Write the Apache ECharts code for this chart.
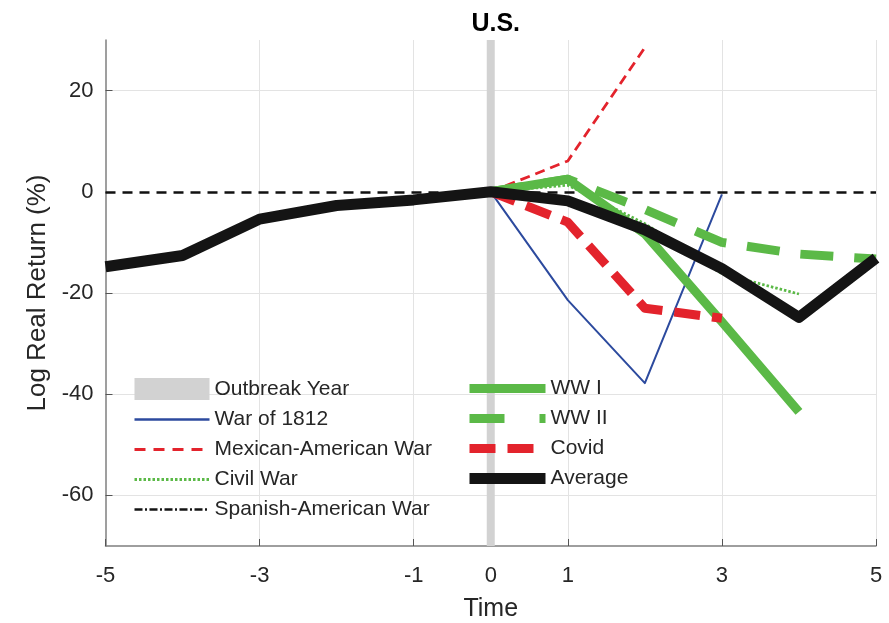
<!DOCTYPE html>
<html>
<head>
<meta charset="utf-8">
<script src="https://cdn.jsdelivr.net/npm/echarts@6/dist/echarts.min.js"></script>
<style>
  html, body { margin: 0; padding: 0; background: #ffffff; }
  #chart { width: 889px; height: 623px; }
</style>
</head>
<body>
<div id="chart"></div>
<script>
// Cumulative log real returns (%) around each war's outbreak year (year 0)
const averageYears = [-5, -4, -3, -2, -1, 0, 1, 2, 3, 4, 5];
const average = [-14.8, -12.6, -5.4, -2.7, -1.6, 0, -1.8, -7.5, -15.2, -24.8, -13.1];

// Individual episodes start at year 0; element i is year i
const war1812 = [0, -21.4, -37.8, -0.5];
const mexicanAmerican = [0, 6.1, 28.5];
const civilWar = [0, 1.3, -6.3, -16.2, -20.2];
const spanishAmerican = [0, 2.2];
const ww1 = [0, 2.5, -8.3, -25.7, -43.5];
const ww2 = [0, 2.5, -3.5, -10.0, -12.3, -13.3];
const covid = [0, -6.0, -23.0, -25.0];

const outbreakYear = 0;
const xTickLabels = [-5, -3, -1, 0, 1, 3, 5];
const yTickLabels = [-60, -40, -20, 0, 20];
const xGridLines = [-3, -1, 1, 3, 5];
const yGridLines = [-60, -40, -20, 20];

const X_MIN = -5, X_MAX = 5, Y_MIN = -70, Y_MAX = 30;

const fromYearZero = vals => vals.map((v, i) => [i, v]);

const FONT = '"Liberation Sans", Arial, Helvetica, sans-serif';
const TEXT = '#262626';
const BLUE = '#2c4a9e';
const RED = '#e3232c';
const GREEN = '#5bb947';
const BLACK = '#141414';

const chart = echarts.init(document.getElementById('chart'), null, { renderer: 'canvas' });

const lineSeries = (name, data, color, width, type, z) => ({
  name, type: 'line', data, symbol: 'none', z,
  color,
  lineStyle: { color, width, type, cap: 'butt', join: 'round' },
  emphasis: { disabled: true },
  animation: false
});

const hiddenSymbol = { opacity: 0 };

chart.setOption({
  animation: false,
  backgroundColor: '#ffffff',
  textStyle: { fontFamily: FONT },
  title: {
    text: 'U.S.',
    left: 490.7, top: 7, textAlign: 'center',
    textStyle: { fontFamily: FONT, fontSize: 25, fontWeight: 'bold', color: '#000' }
  },
  grid: { left: 105.5, right: 13, top: 40, bottom: 77, containLabel: false, outerBoundsMode: 'none' },
  xAxis: {
    type: 'value', min: X_MIN, max: X_MAX,
    name: 'Time', nameLocation: 'middle', nameGap: 51,
    nameTextStyle: { fontFamily: FONT, fontSize: 25, color: TEXT },
    axisLine: { show: true, onZero: false, lineStyle: { color: '#7f7f7f', width: 1.5 } },
    axisTick: { show: true, inside: true, length: 7, customValues: xTickLabels, lineStyle: { color: '#555', width: 1 } },
    axisLabel: { customValues: xTickLabels, fontFamily: FONT, fontSize: 22, color: TEXT, margin: 19 },
    splitLine: { show: false }
  },
  yAxis: {
    type: 'value', min: Y_MIN, max: Y_MAX,
    name: 'Log Real Return (%)', nameLocation: 'middle', nameGap: 42,
    nameTextStyle: { fontFamily: FONT, fontSize: 26, color: TEXT },
    axisLine: { show: true, onZero: false, lineStyle: { color: '#7f7f7f', width: 1.5 } },
    axisTick: { show: true, inside: true, length: 7, customValues: yTickLabels, lineStyle: { color: '#555', width: 1 } },
    axisLabel: { customValues: yTickLabels, fontFamily: FONT, fontSize: 22, color: TEXT, margin: 12 },
    splitLine: { show: false }
  },
  legend: [
    {
      orient: 'vertical', left: 133, top: 378, padding: 0,
      itemWidth: 75, itemHeight: 22, itemGap: 9,
      textStyle: { fontFamily: FONT, fontSize: 21, color: TEXT },
      selectedMode: false,
      data: [
        { name: 'Outbreak Year', icon: 'rect' },
        { name: 'War of 1812', itemStyle: hiddenSymbol, lineStyle: { width: 2.5 } },
        { name: 'Mexican-American War', itemStyle: hiddenSymbol, lineStyle: { width: 3, type: [11, 8] } },
        { name: 'Civil War', itemStyle: hiddenSymbol, lineStyle: { width: 3, type: [2.5, 2] } },
        { name: 'Spanish-American War', itemStyle: hiddenSymbol, lineStyle: { width: 2.5, type: [8, 2.5, 2, 2.5] } }
      ]
    },
    {
      orient: 'vertical', left: 464, top: 378, padding: 0,
      itemWidth: 76, itemHeight: 22, itemGap: 9,
      textStyle: { fontFamily: FONT, fontSize: 21, color: TEXT },
      selectedMode: false,
      data: [
        { name: 'WW I', itemStyle: hiddenSymbol, lineStyle: { width: 9 } },
        { name: 'WW II', itemStyle: hiddenSymbol, lineStyle: { width: 9, type: [35, 35] } },
        { name: 'Covid', itemStyle: hiddenSymbol, lineStyle: { width: 9, type: [26, 12] } },
        { name: 'Average', itemStyle: hiddenSymbol, lineStyle: { width: 11 } }
      ]
    }
  ],
  series: [
    {
      // light grid lines, kept underneath everything
      name: 'grid', type: 'line', data: [], z: 0, silent: true,
      markLine: {
        z: 0, silent: true, symbol: 'none', animation: false,
        label: { show: false },
        lineStyle: { color: '#e3e3e3', width: 1, type: 'solid' },
        emphasis: { disabled: true },
        data: xGridLines.map(v => ({ xAxis: v })).concat(yGridLines.map(v => ({ yAxis: v })))
      }
    },
    lineSeries('Outbreak Year', [[outbreakYear, Y_MIN], [outbreakYear, Y_MAX]], '#d2d2d2', 8, 'solid', 1),
    lineSeries('War of 1812', fromYearZero(war1812), BLUE, 2, 'solid', 2),
    lineSeries('Mexican-American War', fromYearZero(mexicanAmerican), RED, 2.8, [10, 6], 2),
    lineSeries('Civil War', fromYearZero(civilWar), GREEN, 2.8, [2.5, 2], 2),
    lineSeries('Spanish-American War', fromYearZero(spanishAmerican), BLACK, 2.5, [8, 2.5, 2, 2.5], 2),
    lineSeries('WW I', fromYearZero(ww1), GREEN, 9, 'solid', 3),
    lineSeries('WW II', fromYearZero(ww2), GREEN, 9, [33, 21], 3),
    lineSeries('Covid', fromYearZero(covid), RED, 9, [26, 12], 3),
    lineSeries('Average', averageYears.map((x, i) => [x, average[i]]), BLACK, 11, 'solid', 3),
    {
      // zero reference line
      name: 'zero', type: 'line', data: [], z: 3, silent: true,
      markLine: {
        z: 3, silent: true, symbol: 'none', animation: false,
        label: { show: false },
        lineStyle: { color: '#111', width: 2.5, type: [10, 7] },
        emphasis: { disabled: true },
        data: [{ yAxis: 0 }]
      }
    }
  ]
});
</script>
</body>
</html>
